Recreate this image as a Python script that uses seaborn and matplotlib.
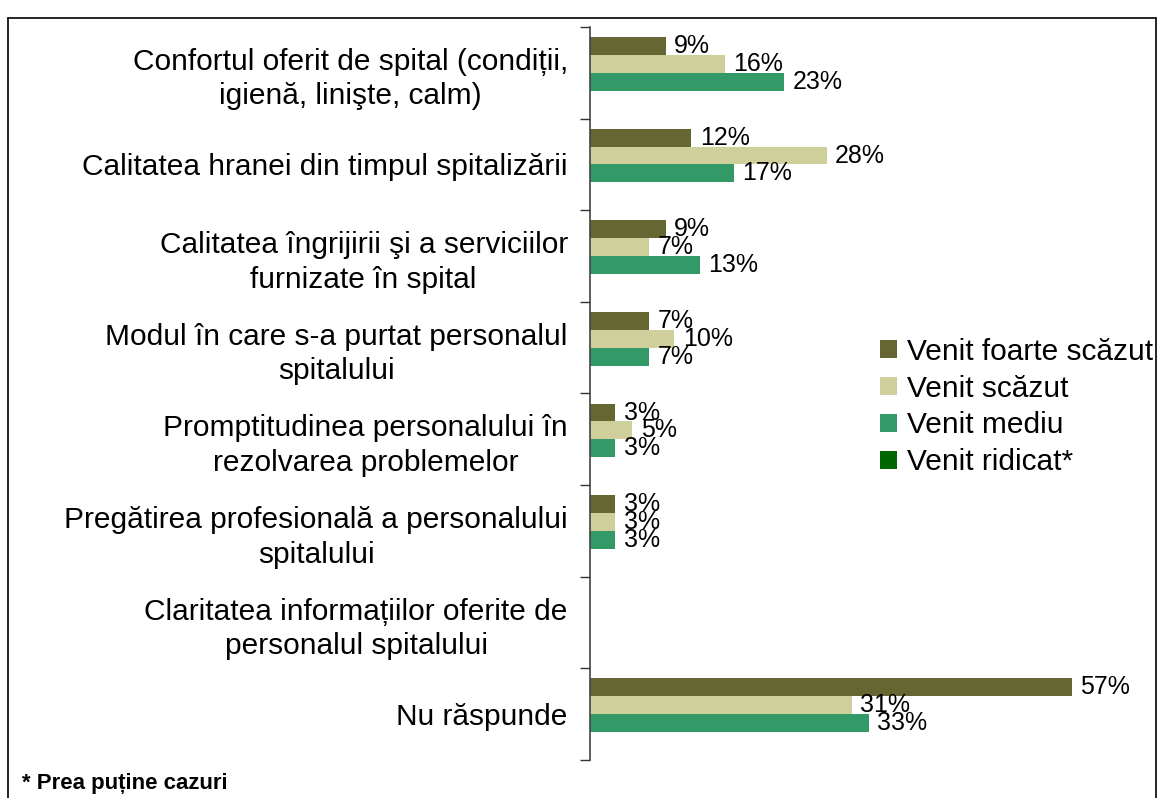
import matplotlib
matplotlib.use("Agg")
import matplotlib.pyplot as plt
from matplotlib.lines import Line2D
import pandas as pd
import seaborn as sns

sns.set_style("white")
plt.rcParams['font.family'] = ['Liberation Sans', 'DejaVu Sans']
plt.rcParams['text.color'] = 'black'
plt.rcParams['ytick.color'] = 'black'

# Data (share of respondents, %)
categories = [
    'Confortul oferit de spital (condiții,\nigienă, linişte, calm)',
    'Calitatea hranei din timpul spitalizării',
    'Calitatea îngrijirii şi a serviciilor\nfurnizate în spital',
    'Modul în care s-a purtat personalul\nspitalului',
    'Promptitudinea personalului în\nrezolvarea problemelor',
    'Pregătirea profesională a personalului\nspitalului',
    'Claritatea informațiilor oferite de\npersonalul spitalului',
    'Nu răspunde',
]
series = ['Venit foarte scăzut', 'Venit scăzut', 'Venit mediu', 'Venit ridicat*']
venit_foarte_scazut = [9, 12, 9, 7, 3, 3, 0, 57]
venit_scazut = [16, 28, 7, 10, 5, 3, 0, 31]
venit_mediu = [23, 17, 13, 7, 3, 3, 0, 33]
venit_ridicat = [0, 0, 0, 0, 0, 0, 0, 0]  # too few cases
colors = ['#666633', '#CFCF9C', '#339966', '#006600']

values = [venit_foarte_scazut, venit_scazut, venit_mediu, venit_ridicat]
rows = []
for s, vals in zip(series, values):
    for c, v in zip(categories, vals):
        rows.append({'Categorie': c, 'Grup': s, 'Procent': v})
df = pd.DataFrame(rows)

fig = plt.figure(figsize=(11.61, 7.98), dpi=100)
ax = fig.add_axes([590 / 1161, 1 - 760 / 798, (1156 - 590) / 1161, (760 - 27) / 798])

sns.barplot(data=df, x='Procent', y='Categorie', hue='Grup', order=categories,
            hue_order=series, palette=dict(zip(series, colors)), orient='h',
            width=0.78, linewidth=0, saturation=1, errorbar=None, ax=ax)

for cont in ax.containers:
    labels = [f'{v:.0f}%' if v > 0 else '' for v in cont.datavalues]
    ax.bar_label(cont, labels=labels, padding=6, fontsize=18, color='black')

ax.set_xlim(0, 67)
ax.set_ylim(len(categories) - 0.5, -0.5)
ax.set_xlabel('')
ax.set_ylabel('')
ax.set_xticks([])
ax.tick_params(axis='y', which='major', length=0, pad=16, labelsize=21.5, labelcolor='black')
for lbl in ax.get_yticklabels():
    lbl.set_multialignment('center')
    lbl.set_linespacing(1.3)
ax.set_yticks([i + 0.5 for i in range(-1, len(categories))], minor=True)
ax.tick_params(axis='y', which='minor', left=True, length=7, width=1,
               direction='out', color='#333333')
for side in ['top', 'right', 'bottom']:
    ax.spines[side].set_visible(False)
ax.spines['left'].set_color('#444444')
ax.spines['left'].set_linewidth(1.2)

ax.legend(loc='center left', bbox_to_anchor=(880 / 1161, 1 - 407 / 798),
          bbox_transform=fig.transFigure, frameon=False, fontsize=21.5,
          handlelength=0.57, handleheight=0.57, handletextpad=0.35,
          labelspacing=0.3, borderpad=0, borderaxespad=0)

# outer frame of the slide
fx0, fx1, fy = 8 / 1161, 1156 / 1161, 1 - 18 / 798
for xs, ys in [([fx0, fx1], [fy, fy]), ([fx0, fx0], [fy, -0.01]), ([fx1, fx1], [fy, -0.01])]:
    fig.add_artist(Line2D(xs, ys, transform=fig.transFigure, color='black', linewidth=1.2))

fig.text(22 / 1161, 1 - 783 / 798, '* Prea puține cazuri', fontsize=16,
         fontweight='bold', va='center', ha='left')

fig.savefig('out.png', dpi=100)
